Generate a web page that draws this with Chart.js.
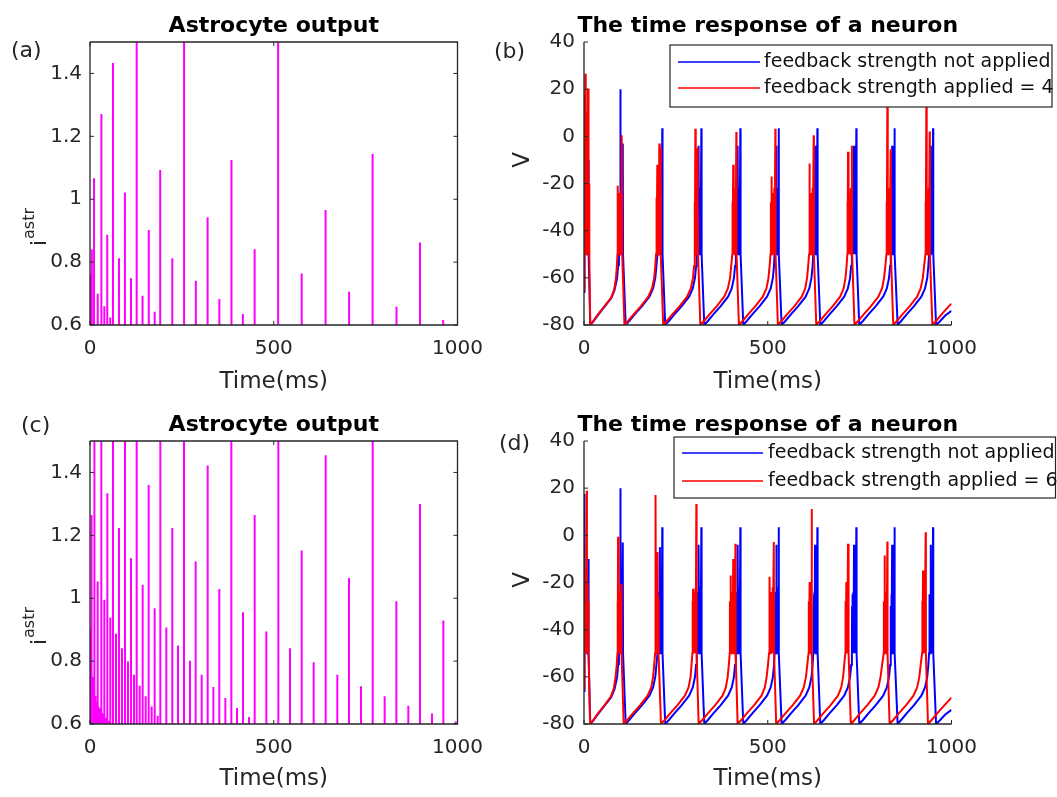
<!DOCTYPE html>
<html>
<head>
<meta charset="utf-8">
<script src="https://cdn.jsdelivr.net/npm/chart.js@4.4.1/dist/chart.umd.min.js"></script>
<style>
  body { margin: 0; background: #fff; }
  #wrap { position: relative; width: 1057px; height: 797px; overflow: hidden; }
  #wrap canvas { position: absolute; }
</style>
</head>
<body>
<div id="wrap">
  <canvas id="chartA" width="500" height="400" style="left:0;top:0"></canvas>
  <canvas id="chartB" width="587" height="400" style="left:470px;top:0"></canvas>
  <canvas id="chartC" width="500" height="397" style="left:0;top:400px"></canvas>
  <canvas id="chartD" width="587" height="397" style="left:470px;top:400px"></canvas>
</div>
<script>
// axis ticks
const timeTicks = [0, 500, 1000];
const astroTicks = [0.6, 0.8, 1, 1.2, 1.4];
const astroTickLabels = ["0.6", "0.8", "1", "1.2", "1.4"];
const voltTicks = [-80, -60, -40, -20, 0, 20, 40];

// astrocyte output, feedback 4: spike times (ms) and heights
const astroTimesA = [0, 2, 5, 11, 21, 31, 39, 47, 55, 62.6, 79, 95, 111.6, 127, 143, 160, 176, 191, 224, 256,
  288, 320, 352, 385, 416, 448, 512, 576, 641, 705, 769, 834, 898, 961];
const astroValuesA = [0.76, 0.7, 0.84, 1.067, 0.699, 1.271, 0.66, 0.887, 0.624, 1.433, 0.812, 1.021, 0.749, 1.6,
  0.693, 0.902, 0.642, 1.093, 0.812, 1.6, 0.741, 0.943, 0.683, 1.125, 0.635, 0.841, 1.6, 0.764, 0.966, 0.706,
  1.144, 0.658, 0.862, 0.616];

// astrocyte output, feedback 6
const astroTimesC = [0, 1, 2, 3, 4, 5.4, 6.5, 8, 9.5, 11, 12.7, 14, 15.5, 17, 18.5, 20.9, 23, 25, 27, 30.8, 33, 36,
  39, 42, 45, 47.2, 50, 55.3, 62.6, 70.7, 78.9, 87.1, 95.2, 103.4, 111.6, 119.7, 127, 135.1, 143.3, 151.5, 159.6,
  167.8, 176, 184.1, 191.4, 207.7, 224, 239.5, 255.8, 272.1, 287.5, 303.9, 320.2, 335.6, 351.9, 368.3, 384.6,
  400, 416.3, 432.7, 448.1, 479.8, 512.5, 544.2, 576, 608.6, 641.3, 673, 704.8, 737.4, 769.2, 801.8, 833.6,
  866.2, 898, 930.6, 961.5, 995];
const astroValuesC = [0.9, 0.87, 0.84, 0.8, 0.77, 1.265, 0.75, 0.73, 0.71, 0.7, 1.6, 0.69, 0.68, 0.67, 0.66, 1.053,
  0.655, 0.65, 0.64, 1.6, 0.635, 0.63, 0.995, 0.62, 0.615, 1.334, 0.61, 0.939, 1.6, 0.887, 1.223, 0.841, 1.6,
  0.799, 1.127, 0.757, 1.6, 0.722, 1.043, 0.688, 1.36, 0.656, 0.968, 0.626, 1.6, 0.907, 1.223, 0.85, 1.6, 0.801,
  1.117, 0.757, 1.422, 0.718, 1.029, 0.683, 1.6, 0.651, 0.955, 0.622, 1.265, 0.894, 1.6, 0.841, 1.152, 0.796,
  1.455, 0.757, 1.064, 0.72, 1.6, 0.688, 0.99, 0.658, 1.3, 0.633, 0.929, 0.608];

// membrane potential without feedback [ms, mV]
const voltNoFeedback = [
  [0,-66],[0.5,-50],[1,-22],[1.5,17.5],[2,-50],[3,-25],[3.5,-50],[4.5,-22],[5,-50],[6,-28],[6.5,-50],[8,-30],[8.5,-50],
  [10,-25],[10.5,-50],[12,-10],[12.5,-50],[17,-80],
  [25,-78.6],[38,-75.8],[56,-72.2],[74,-68.7],[83,-65.2],[90,-60.2],[93,-54.6],[95,-50],
  [96,-28],[96.5,-50],[97.5,-24],[98,-50],[99,20],[99.6,-50],[101,-26],[101.5,-50],[102.8,-22],[103.3,-50],
  [105.5,-3],[106.2,-50],[113.5,-80],
  [123,-78.3],[138,-75.5],[158,-72],[178,-68],[188,-64.5],[194,-60],[197,-55],[200,-50],
  [201,-30],[201.5,-50],[202.5,-26],[203,-50],[204,-24],[204.5,-50],[206.5,-5],[207.2,-50],[208.5,-26],[209,-50],
  [210.5,-22],[211,-50],[213,3.4],[213.7,-50],[221,-80],
  [231,-78.3],[246,-75.5],[266,-72],[286,-68],[296,-64.5],[302,-60],[305,-55],[307,-50],
  [307.5,-30],[308,-50],[309,-25],[309.5,-50],[310.5,-24],[311,-50],[312.5,-4],[313.2,-50],[314.5,-26],[315,-50],
  [316.8,-22],[317.3,-50],[319.3,3.4],[320,-50],[327.3,-80],
  [337,-78.3],[352,-75.5],[372,-72],[392,-68],[402,-64.5],[408,-60],[411,-55],[413,-50],
  [413.5,-30],[414,-50],[415,-25],[415.5,-50],[416.5,-24],[417,-50],[419,-4],[419.7,-50],[421,-26],[421.5,-50],
  [423,-22],[423.5,-50],[425.4,3.4],[426.1,-50],[433.4,-80],
  [443,-78.3],[458,-75.5],[478,-72],[498,-68],[508,-64.5],[514,-60],[517,-55],[518.5,-50],
  [519,-30],[519.5,-50],[520.5,-25],[521,-50],[522,-24],[522.5,-50],[523.4,-4],[524.1,-50],[525.5,-26],[526,-50],
  [527.5,-22],[528,-50],[529.7,3.4],[530.4,-50],[537.7,-80],
  [548,-78.3],[563,-75.5],[583,-72],[603,-68],[613,-64.5],[619,-60],[622,-55],[624,-50],
  [624.5,-30],[625,-50],[626,-25],[626.5,-50],[627.3,-24],[627.8,-50],[628.7,-4],[629.4,-50],[630.8,-26],[631.3,-50],
  [632.8,-22],[633.3,-50],[635,3.4],[635.7,-50],[643,-80],
  [653,-78.3],[668,-75.5],[688,-72],[708,-68],[718,-64.5],[724,-60],[727,-55],[729,-50],
  [729.5,-30],[730,-50],[731,-25],[731.5,-50],[733,-24],[733.5,-50],[734.7,-4],[735.4,-50],[736.8,-26],[737.3,-50],
  [738.8,-22],[739.3,-50],[741,3.4],[741.7,-50],[749,-80],
  [759,-78.3],[774,-75.5],[794,-72],[814,-68],[824,-64.5],[830,-60],[833,-55],[834.5,-50],
  [835,-30],[835.5,-50],[836.5,-25],[837,-50],[838.5,-4],[839.2,-50],[840.5,-24],[841,-50],[842.5,-26],[843,-50],
  [843.8,-22],[844.2,-50],[845.4,3.4],[846.1,-50],[853.4,-80],
  [863,-78.3],[878,-75.5],[898,-72],[918,-68],[928,-64.5],[934,-60],[937,-55],[939,-50],
  [939.5,-30],[940,-50],[941,-25],[941.5,-50],[943.3,-4],[944,-50],[945.3,-26],[945.8,-50],[947.5,-22],[948,-50],
  [949.7,3.4],[950.4,-50],[958,-80],
  [968,-78.5],[983,-76],[1000,-74]
];

// membrane potential, feedback strength 4
const voltFeedback4 = [
  [0,-65],[0.5,-50],[1.5,0],[2,-50],[3.6,26.5],[4.2,-50],[5.2,5],[5.7,-50],[6.8,10],[7.3,-50],[8.5,0],[9,-50],
  [10.9,20.3],[11.5,-50],[12.5,-10],[13,-50],[14,-20],[14.5,-50],[17,-80],
  [25,-78.4],[38,-75.5],[56,-72],[74,-68.4],[82,-65],[87,-60],[89.5,-55],[91,-50],
  [91.5,-21],[92,-50],[93,-30],[93.5,-50],[94.5,-26],[95,-50],[96,-28],[96.5,-50],[97.5,-24],[98,-50],[99,-30],
  [99.5,-50],[100.5,-26],[101,-50],[102,-22],[102.5,-50],[103.4,0.5],[104,-50],[110,-80],
  [120,-78.3],[135,-75.5],[155,-72],[175,-68],[185,-64.5],[191,-60],[194,-55],[196,-50],
  [196.5,-30],[197,-50],[198,-26],[198.5,-50],[199.5,-12],[200.1,-50],[201,-28],[201.5,-50],[202.5,-24],[203,-50],
  [205,-3],[205.6,-50],[206.7,-26],[207.2,-50],[208.6,-5],[209.2,-50],[215.5,-80],
  [225.5,-78.3],[240.5,-75.5],[260.5,-72],[280.5,-68],[290.5,-64.5],[296.5,-60],[299.5,-55],[301,-50],
  [301.5,-28],[302,-50],[303,3.2],[303.6,-50],[304.5,-26],[305,-50],[306,-24],[306.5,-50],[308.4,-5],[309,-50],
  [310,-28],[310.5,-50],[316.5,-80],
  [326.5,-78.3],[341.5,-75.5],[361.5,-72],[381.5,-68],[391.5,-64.5],[397.5,-60],[400.5,-55],[403.5,-50],
  [404,-28],[404.5,-50],[406,-12],[406.6,-50],[407.5,-26],[408,-50],[409,-24],[409.5,-50],[410.5,-28],[411,-50],
  [412.2,-22],[412.7,-50],[414.5,1.8],[415.1,-50],[421.5,-80],
  [431.5,-78.3],[446.5,-75.5],[466.5,-72],[486.5,-68],[496.5,-64.5],[502,-60],[505,-55],[507.5,-50],
  [508.5,-28],[509,-50],[509.8,-17],[510.4,-50],[511.5,-26],[512,-50],[513,-24],[513.5,-50],[514.5,-28],[515,-50],
  [516,-25],[516.5,-50],[517.8,-22],[518.3,-50],[520.7,3.2],[521.3,-50],[527.5,-80],
  [537.5,-78.3],[552.5,-75.5],[572.5,-72],[592.5,-68],[602,-64.5],[607,-60],[610,-55],[612.5,-50],
  [613,-28],[613.5,-50],[614.3,-11.5],[614.9,-50],[616,-26],[616.5,-50],[617.5,-24],[618,-50],[619,-28],[619.5,-50],
  [620.5,-25],[621,-50],[622.3,-22],[622.8,-50],[625,0.5],[625.6,-50],[632,-80],
  [642,-78.3],[657,-75.5],[677,-72],[697,-68],[706.5,-64.5],[711.5,-60],[714.5,-55],[716.5,-50],
  [717,-28],[717.5,-50],[718.4,-6.5],[719,-50],[720,-26],[720.5,-50],[721.5,-24],[722,-50],[723,-28],[723.5,-50],
  [724.5,-25],[725,-50],[726.5,-22],[727,-50],[729,-4],[729.6,-50],[736,-80],
  [746,-78.3],[761,-75.5],[781,-72],[801,-68],[811,-64.5],[816.5,-60],[820,-55],[823,-50],
  [823.5,-28],[824,-50],[825.4,13],[826,-50],[827,-26],[827.5,-50],[828.5,-24],[829,-50],[830,-28],[830.5,-50],
  [831.8,-22],[832.3,-50],[834.5,-5.5],[835.1,-50],[841.5,-80],
  [851.5,-78.3],[866.5,-75.5],[886.5,-72],[906.5,-68],[916,-64.5],[922,-60],[925.5,-55],[929,-50],
  [929.5,-28],[930,-50],[931.5,13],[932.1,-50],[933,-26],[933.5,-50],[934.5,-24],[935,-50],[936,-28],[936.5,-50],
  [938,-22],[938.5,-50],[940.6,2],[941.2,-50],[948,-80],
  [958,-78.3],[973,-75.5],[993,-72],[1000,-71]
];

// membrane potential, feedback strength 6
const voltFeedback6 = [
  [0,-65],[0.5,-50],[1.5,-30],[2,-50],[3,-28],[3.5,-50],[4.5,-15],[5,-50],[7.3,18.9],[8,-50],[9,-20],[9.5,-50],
  [10.5,-25],[11,-50],[12,-28],[12.5,-50],[16.5,-80],
  [25,-78.4],[38,-75.5],[56,-72],[73,-68.4],[81,-65],[86,-60],[89,-55],[91,-50],
  [91.5,-28],[92,-50],[92.7,-0.6],[93.3,-50],[94.5,-26],[95,-50],[96,-24],[96.5,-50],[97.5,-28],[98,-50],
  [99,-25],[99.5,-50],[101.6,-20.5],[102.2,-50],[108,-80],
  [118,-78.3],[133,-75.5],[153,-72],[173,-68],[183,-64.5],[188,-60],[191,-55],[193.5,-50],
  [194,-28],[194.5,-50],[195.3,17.1],[196,-50],[197,-26],[197.5,-50],[198.8,-17.7],[199.4,-50],[201,-7.1],
  [201.6,-50],[202.6,-26],[203.1,-50],[209.5,-80],
  [219.5,-78.3],[234.5,-75.5],[254.5,-72],[274.5,-68],[284.5,-64.5],[290,-60],[292.5,-55],[295,-50],
  [295.5,-28],[296,-50],[296.8,-22.6],[297.4,-50],[298.5,-26],[299,-50],[300,-24],[300.5,-50],[301.5,-28],
  [302,-50],[303.2,-25],[303.7,-50],[305.7,13.3],[306.4,-50],[312,-80],
  [322,-78.3],[337,-75.5],[357,-72],[377,-68],[386,-64.5],[391,-60],[394,-55],[396.5,-50],
  [397,-28],[397.5,-50],[399,-17],[399.6,-50],[400.8,-26],[401.3,-50],[402.5,-24],[403,-50],[404.3,-28],
  [404.8,-50],[406,-10],[406.6,-50],[408,-25],[408.5,-50],[409.8,-22],[410.3,-50],[412,-3.6],[412.6,-50],[418,-80],
  [428,-78.3],[443,-75.5],[463,-72],[483,-68],[492,-64.5],[497,-60],[500.5,-55],[503.5,-50],
  [504,-28],[504.5,-50],[506,-17.6],[506.6,-50],[508,-26],[508.5,-50],[509.8,-24],[510.3,-50],[511.6,-28],
  [512.1,-50],[513.5,-22],[514,-50],[516.5,-2.8],[517.1,-50],[523,-80],
  [533,-78.3],[548,-75.5],[568,-72],[588,-68],[598,-64.5],[604,-60],[607.5,-55],[611,-50],
  [611.5,-28],[612,-50],[614,-19.8],[614.6,-50],[615.8,-26],[616.3,-50],[617.5,-24],[618,-50],[619.5,11.2],
  [620.2,-50],[626,-80],
  [636,-78.3],[651,-75.5],[671,-72],[691,-68],[700,-64.5],[705,-60],[708,-55],[711,-50],
  [711.5,-28],[712,-50],[713.9,-19.8],[714.5,-50],[715.6,-26],[716.1,-50],[718.4,-3.6],[719,-50],[720.2,-28],
  [720.7,-50],[726,-80],
  [736,-78.3],[751,-75.5],[771,-72],[791,-68],[801,-64.5],[807,-60],[811,-55],[815.5,-50],
  [816,-28],[816.5,-50],[818,-8.5],[818.6,-50],[819.8,-26],[820.3,-50],[821.5,-24],[822,-50],[823.2,-28],
  [823.7,-50],[825.4,-2.6],[826,-50],[831.5,-80],
  [841.5,-78.3],[856.5,-75.5],[876.5,-72],[896.5,-68],[906.5,-64.5],[912.5,-60],[916,-55],[920,-50],
  [920.5,-28],[921,-50],[922.5,-14.9],[923.1,-50],[924.3,-26],[924.8,-50],[926,-24],[926.5,-50],[929.7,1.3],
  [930.3,-50],[936,-80],
  [946,-78.3],[961,-75.5],[981,-72],[1000,-68.8]
];

const FONT = "'DejaVu Sans', sans-serif";
const INK = "#262626";

// vertical spike from below the axis up to its height
function spikePoints(times, values) {
  let pts = [];
  for (let i = 0; i < times.length; i++) {
    pts.push({x: times[i], y: 0.5}, {x: times[i], y: values[i]}, {x: times[i], y: 0.5});
  }
  return pts;
}

function tracePoints(trace) {
  return trace.map(p => ({x: p[0], y: p[1]}));
}

// titles, panel letters, box, inward ticks and legend
const panelDeco = {
  id: "panelDeco",
  afterDatasetsDraw(chart, args, o) {
    let ctx = chart.ctx;
    let a = chart.chartArea;
    let xs = chart.scales.x;
    let ys = chart.scales.y;
    ctx.save();
    ctx.strokeStyle = INK;
    ctx.lineWidth = 1.3;
    ctx.beginPath();
    ctx.moveTo(a.left, a.top);
    ctx.lineTo(a.left, a.bottom);
    ctx.lineTo(a.right, a.bottom);
    if (o.box) {
      ctx.lineTo(a.right, a.top);
      ctx.lineTo(a.left, a.top);
    }
    ctx.stroke();
    ctx.lineWidth = 1;
    ctx.beginPath();
    xs.ticks.forEach(t => {
      let px = xs.getPixelForValue(t.value);
      ctx.moveTo(px, a.bottom);
      ctx.lineTo(px, a.bottom - 4);
      if (o.box) {
        ctx.moveTo(px, a.top);
        ctx.lineTo(px, a.top + 4);
      }
    });
    ys.ticks.forEach(t => {
      let py = ys.getPixelForValue(t.value);
      ctx.moveTo(a.left, py);
      ctx.lineTo(a.left + 4, py);
      if (o.box) {
        ctx.moveTo(a.right, py);
        ctx.lineTo(a.right - 4, py);
      }
    });
    ctx.stroke();
    ctx.restore();
  },
  afterDraw(chart, args, o) {
    let ctx = chart.ctx;
    let a = chart.chartArea;
    ctx.save();
    ctx.fillStyle = "#000";
    ctx.textAlign = "center";
    ctx.textBaseline = "alphabetic";
    ctx.font = "bold 22px " + FONT;
    ctx.fillText(o.title, (a.left + a.right) / 2, o.titleY);
    ctx.fillStyle = INK;
    ctx.font = "22px " + FONT;
    ctx.textAlign = "left";
    ctx.fillText(o.letter, o.letterX, o.letterY);

    // rotated y label: plain text or i with "astr" superscript
    ctx.save();
    ctx.translate(o.yLabel.x, o.yLabel.y);
    ctx.rotate(-Math.PI / 2);
    ctx.fillStyle = INK;
    if (o.yLabel.text) {
      ctx.textAlign = "center";
      ctx.font = "23px " + FONT;
      ctx.fillText(o.yLabel.text, 0, 0);
    } else {
      ctx.font = "22px " + FONT;
      ctx.fillText("i", 0, 0);
      ctx.font = "16px " + FONT;
      ctx.fillText("astr", 7, -12);
    }
    ctx.restore();

    if (o.legend) {
      let L = o.legend;
      ctx.fillStyle = "#fff";
      ctx.fillRect(L.x1, L.y1, L.x2 - L.x1, L.y2 - L.y1);
      ctx.strokeStyle = INK;
      ctx.lineWidth = 1.2;
      ctx.strokeRect(L.x1, L.y1, L.x2 - L.x1, L.y2 - L.y1);
      ctx.font = "19px " + FONT;
      ctx.textBaseline = "middle";
      L.rows.forEach(r => {
        ctx.strokeStyle = r.color;
        ctx.lineWidth = 1.6;
        ctx.beginPath();
        ctx.moveTo(L.lineX1, r.y);
        ctx.lineTo(L.lineX2, r.y);
        ctx.stroke();
        ctx.fillStyle = "#111";
        ctx.fillText(r.text, L.textX, r.y);
      });
    }
    ctx.restore();
  }
};

function axisX(xh, pad) {
  return {
    type: "linear",
    min: 0,
    max: 1000,
    afterBuildTicks: s => { s.ticks = timeTicks.map(v => ({value: v})); },
    afterFit: s => { s.height = xh; },
    grid: {display: false, drawTicks: false},
    border: {display: false},
    ticks: {color: INK, font: {family: FONT, size: 20}, padding: pad, maxRotation: 0,
      callback: v => String(v)},
    title: {display: true, text: "Time(ms)", color: INK, font: {family: FONT, size: 23},
      padding: {top: 0, bottom: 4}}
  };
}

function astroChart(id, times, values, deco, top, xh) {
  return new Chart(document.getElementById(id), {
    type: "line",
    data: {
      datasets: [{
        data: spikePoints(times, values),
        borderColor: "#ff00ff",
        borderWidth: 2,
        pointRadius: 0,
        tension: 0
      }]
    },
    options: {
      responsive: false,
      animation: false,
      events: [],
      layout: {padding: {top: top, right: 42.5, bottom: 0, left: 0}},
      plugins: {legend: {display: false}, tooltip: {enabled: false}, panelDeco: deco},
      scales: {
        x: axisX(xh, 12),
        y: {
          type: "linear",
          min: 0.6,
          max: 1.5,
          afterBuildTicks: s => { s.ticks = astroTicks.map(v => ({value: v})); },
          afterFit: s => { s.width = 90; },
          grid: {display: false, drawTicks: false},
          border: {display: false},
          ticks: {color: INK, font: {family: FONT, size: 20}, padding: 8,
            callback: (v, i) => astroTickLabels[i]}
        }
      }
    },
    plugins: [panelDeco]
  });
}

function neuronChart(id, trace, strength, deco, top, xh) {
  return new Chart(document.getElementById(id), {
    type: "line",
    data: {
      datasets: [
        {label: "feedback strength not applied", data: tracePoints(voltNoFeedback),
          borderColor: "#0000ff", borderWidth: 2, pointRadius: 0, tension: 0, order: 2},
        {label: "feedback strength applied = " + strength, data: tracePoints(trace),
          borderColor: "#ff0000", borderWidth: 2, pointRadius: 0, tension: 0, order: 1}
      ]
    },
    options: {
      responsive: false,
      animation: false,
      events: [],
      layout: {padding: {top: top, right: 105.5, bottom: 0, left: 0}},
      plugins: {legend: {display: false}, tooltip: {enabled: false}, panelDeco: deco},
      scales: {
        x: axisX(xh, 12),
        y: {
          type: "linear",
          min: -80,
          max: 40,
          afterBuildTicks: s => { s.ticks = voltTicks.map(v => ({value: v})); },
          afterFit: s => { s.width = 114; },
          grid: {display: false, drawTicks: false},
          border: {display: false},
          ticks: {color: INK, font: {family: FONT, size: 20}, padding: 9, callback: v => String(v)}
        }
      }
    },
    plugins: [panelDeco]
  });
}

astroChart("chartA", astroTimesA, astroValuesA, {
  title: "Astrocyte output", titleY: 32, letter: "(a)", letterX: 11, letterY: 57, box: true,
  yLabel: {x: 46, y: 246}
}, 42, 75);

neuronChart("chartB", voltFeedback4, 4, {
  title: "The time response of a neuron", titleY: 32, letter: "(b)", letterX: 24, letterY: 58, box: false,
  yLabel: {text: "V", x: 59, y: 160},
  legend: {x1: 200, y1: 45, x2: 582, y2: 107, lineX1: 208, lineX2: 290, textX: 294,
    rows: [{y: 62, color: "#0000ff", text: "feedback strength not applied"},
           {y: 88, color: "#ff0000", text: "feedback strength applied = 4"}]}
}, 42, 75);

astroChart("chartC", astroTimesC, astroValuesC, {
  title: "Astrocyte output", titleY: 31, letter: "(c)", letterX: 21, letterY: 32, box: true,
  yLabel: {x: 46, y: 245}
}, 41, 73);

neuronChart("chartD", voltFeedback6, 6, {
  title: "The time response of a neuron", titleY: 31, letter: "(d)", letterX: 29, letterY: 50, box: false,
  yLabel: {text: "V", x: 59, y: 180},
  legend: {x1: 204, y1: 37, x2: 585.5, y2: 98, lineX1: 212, lineX2: 293, textX: 298,
    rows: [{y: 53, color: "#0000ff", text: "feedback strength not applied"},
           {y: 81, color: "#ff0000", text: "feedback strength applied = 6"}]}
}, 41, 73);
</script>
</body>
</html>
